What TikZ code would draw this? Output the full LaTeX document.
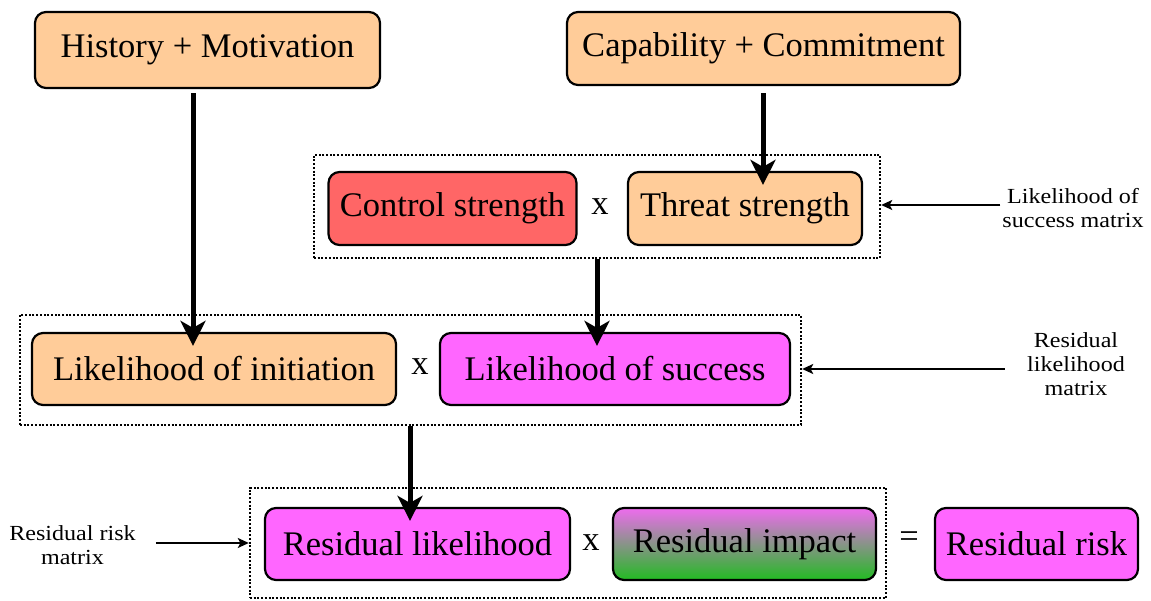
\documentclass[tikz,border=0pt]{standalone}
\usepackage{fontspec}
\setmainfont{Liberation Serif}
\newfontfamily\labfont[FakeStretch=1.12]{Liberation Serif}
\usetikzlibrary{arrows.meta,calc}
\definecolor{peach}{HTML}{FFCC99}
\definecolor{ctrlred}{HTML}{FF6666}
\definecolor{pinkish}{HTML}{FF66FF}
\definecolor{impacttop}{HTML}{EE6CEE}
\definecolor{impactbot}{HTML}{22BB22}
\begin{document}
\begin{tikzpicture}[x=1pt,y=-1pt,
  box/.style={draw=black, line width=2.2pt, rounded corners=11pt, inner sep=0pt,
              align=center, font=\fontsize{34.5}{40}\selectfont},
  grp/.style={draw=black, line width=2.4pt, dash pattern=on 2pt off 1.7pt, inner sep=0pt},
  op/.style={inner sep=0pt, font=\fontsize{34.5}{40}\selectfont},
  note/.style={align=center, inner sep=0pt, font=\labfont\fontsize{21.5}{24}\selectfont},
  bigarrow/.style={line width=5pt, -{Stealth[length=25pt,width=25pt,inset=7pt]}},
  thinarrow/.style={line width=1.5pt, -{Stealth[length=11pt,width=10pt,inset=2.5pt]}}
]
\useasboundingbox (0,0) rectangle (1151,601);

% top inputs
\node[box, fill=peach, minimum width=345pt, minimum height=76pt] (hm) at (207.5,50) {History + Motivation};
\node[box, fill=peach, minimum width=393pt, minimum height=73pt] (cc) at (763.5,48.5) {Capability + Commitment};

% likelihood of success group
\node[grp, minimum width=566pt, minimum height=103pt] (g1) at (597,206.5) {};
\node[box, fill=ctrlred, minimum width=248pt, minimum height=73pt] (cs) at (452.5,208.5) {Control strength};
\node[op] (x1) at (600,207) {x};
\node[box, fill=peach, minimum width=234pt, minimum height=73pt] (ts) at (745,208.5) {Threat strength};

% residual likelihood group
\node[grp, minimum width=781pt, minimum height=110pt] (g2) at (410.5,370) {};
\node[box, fill=peach, minimum width=364pt, minimum height=72pt] (li) at (214,369) {Likelihood of initiation};
\node[op] (x2) at (420,367) {x};
\node[box, fill=pinkish, minimum width=350pt, minimum height=72pt] (ls) at (615,369) {Likelihood of success};

% residual risk group
\node[grp, minimum width=636pt, minimum height=110pt] (g3) at (568,543) {};
\node[box, fill=pinkish, minimum width=305pt, minimum height=72pt] (rl) at (417.5,544) {Residual likelihood};
\node[op] (x3) at (591,543) {x};
\node[box, top color=impacttop, bottom color=impactbot, minimum width=263pt, minimum height=72pt] (ri) at (744.5,544) {Residual impact};
\node[op] (eq) at (909,540) {=};
\node[box, fill=pinkish, minimum width=203pt, minimum height=72pt] (rr) at (1036.5,544) {Residual risk};

% side notes
\node[note] (n1) at (1073,208) {Likelihood of\\success matrix};
\node[note] (n2) at (1076,364) {Residual\\likelihood\\matrix};
\node[note] (n3) at (72.5,545) {Residual risk\\matrix};

% arrow columns
\coordinate (c1) at (193,0);
\coordinate (c2) at (763,0);
\coordinate (c3) at (597,0);
\coordinate (c4) at (410,0);

% main flow
\draw[bigarrow] ($(hm.south -| c1)+(0,4)$) -- ($(li.north -| c1)+(0,14)$);
\draw[bigarrow] ($(cc.south -| c2)+(0,7)$) -- ($(ts.north -| c2)+(0,14)$);
\draw[bigarrow] (g1.south -| c3) -- ($(ls.north -| c3)+(0,14)$);
\draw[bigarrow] (g2.south -| c4) -- ($(rl.north -| c4)+(0,14)$);

% note pointers
\draw[thinarrow] ($(n1.west)+(-2,-3)$) -- ($(g1.east)+(0,-1.5)$);
\draw[thinarrow] ($(n2.west)+(-22,5)$) -- ($(g2.east)+(0,-1)$);
\draw[thinarrow] ($(n3.east)+(20,-2)$) -- ($(g3.west)+(0,0)$);
\end{tikzpicture}
\end{document}
